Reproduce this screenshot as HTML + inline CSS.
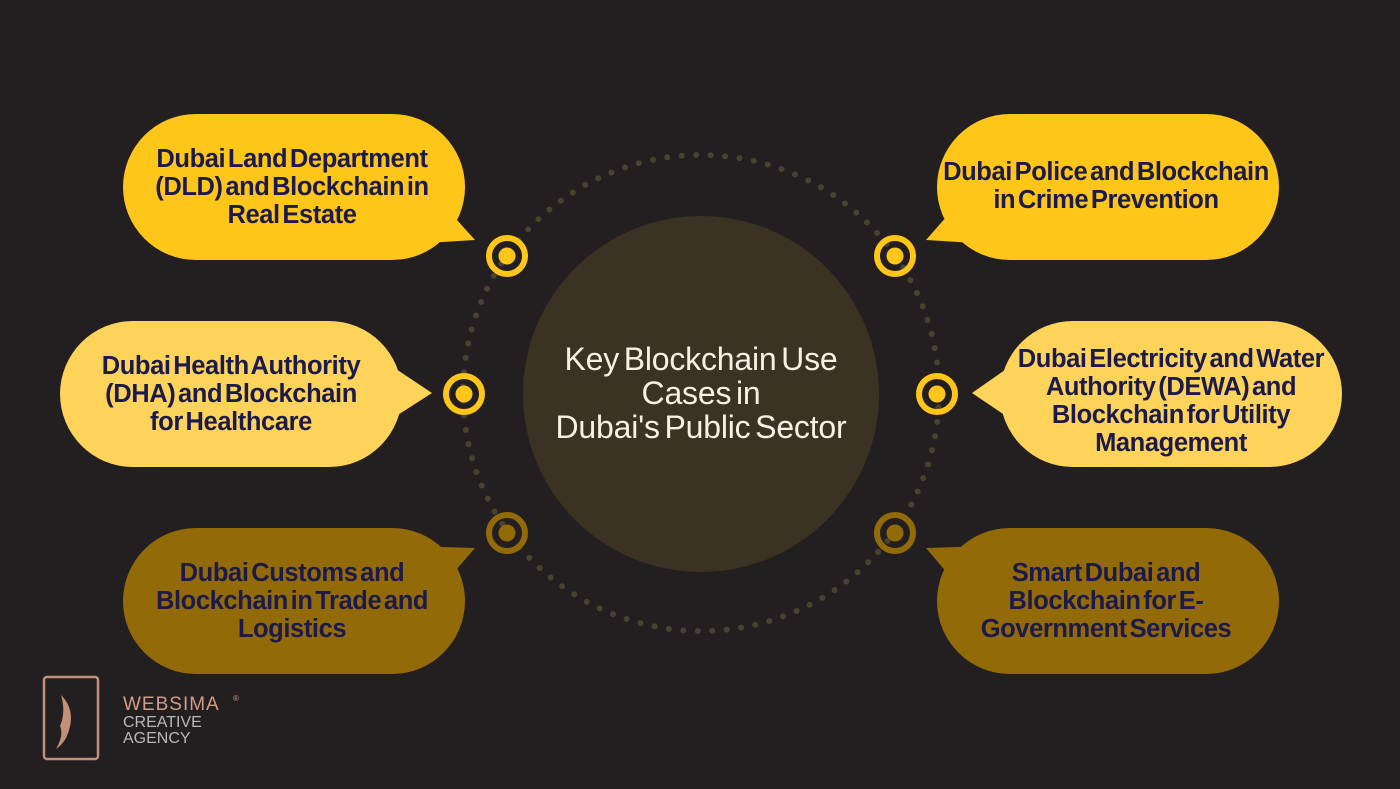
<!DOCTYPE html>
<html><head><meta charset="utf-8"><style>
html,body{margin:0;padding:0;background:#231f20;}
svg{display:block}
.t{font-family:"Liberation Sans",sans-serif;font-weight:bold;font-size:25.5px;fill:#1c1a4a;text-anchor:middle;letter-spacing:-0.4px;word-spacing:-4px}
.c{font-family:"Liberation Sans",sans-serif;font-size:32px;fill:#f8f0e4;text-anchor:middle;letter-spacing:-0.2px;word-spacing:-4px}
</style></head><body>
<svg width="1400" height="789" viewBox="0 0 1400 789">
<rect width="1400" height="789" fill="#231f20"/>
<circle cx="701" cy="393" r="238" fill="none" stroke="#4a4230" stroke-width="6" stroke-linecap="round" stroke-dasharray="0 14.5"/>
<circle cx="701" cy="394" r="178" fill="#3a3223"/>
<text class="c" x="701" y="370">Key Blockchain Use</text>
<text class="c" x="701" y="404">Cases in</text>
<text class="c" x="701" y="438">Dubai's Public Sector</text>

<rect x="123" y="114" width="342" height="146" rx="73" fill="#fec619"/>
<polygon points="430,190 475,240 410,244" fill="#fec619"/>
<text class="t" x="292" y="167">Dubai Land Department</text>
<text class="t" x="292" y="195">(DLD) and Blockchain in</text>
<text class="t" x="292" y="223">Real Estate</text>

<rect x="937" y="114" width="342" height="146" rx="73" fill="#fec619"/>
<polygon points="970,190 926,240 990,244" fill="#fec619"/>
<text class="t" x="1106" y="180">Dubai Police and Blockchain</text>
<text class="t" x="1106" y="208">in Crime Prevention</text>

<rect x="60" y="321" width="342" height="146" rx="73" fill="#fdd35a"/>
<polygon points="390,365 432,393 390,420" fill="#fdd35a"/>
<text class="t" x="231" y="374">Dubai Health Authority</text>
<text class="t" x="231" y="402">(DHA) and Blockchain</text>
<text class="t" x="231" y="430">for Healthcare</text>

<rect x="1000" y="321" width="342" height="146" rx="73" fill="#fdd35a"/>
<polygon points="1012,365 972,393 1012,420" fill="#fdd35a"/>
<text class="t" x="1171" y="367">Dubai Electricity and Water</text>
<text class="t" x="1171" y="395">Authority (DEWA) and</text>
<text class="t" x="1171" y="423">Blockchain for Utility</text>
<text class="t" x="1171" y="451">Management</text>

<rect x="123" y="528" width="342" height="146" rx="73" fill="#936a08"/>
<polygon points="410,546 475,548 430,600" fill="#936a08"/>
<text class="t" x="292" y="581">Dubai Customs and</text>
<text class="t" x="292" y="609">Blockchain in Trade and</text>
<text class="t" x="292" y="637">Logistics</text>

<rect x="937" y="528" width="342" height="146" rx="73" fill="#936a08"/>
<polygon points="990,546 926,548 970,600" fill="#936a08"/>
<text class="t" x="1106" y="581">Smart Dubai and</text>
<text class="t" x="1106" y="609">Blockchain for E-</text>
<text class="t" x="1106" y="637">Government Services</text>

<g fill="none" stroke-width="6">
<circle cx="507" cy="256" r="18" stroke="#fec619"/>
<circle cx="895" cy="256" r="18" stroke="#fec619"/>
<circle cx="464" cy="394" r="18" stroke="#fec619"/>
<circle cx="937" cy="394" r="18" stroke="#fec619"/>
<circle cx="507" cy="533" r="18" stroke="#936a08"/>
<circle cx="895" cy="533" r="18" stroke="#936a08"/>
</g>
<circle cx="507" cy="256" r="8.5" fill="#fec619"/>
<circle cx="895" cy="256" r="8.5" fill="#fec619"/>
<circle cx="464" cy="394" r="8.5" fill="#fec619"/>
<circle cx="937" cy="394" r="8.5" fill="#fec619"/>
<circle cx="507" cy="533" r="8.5" fill="#936a08"/>
<circle cx="895" cy="533" r="8.5" fill="#936a08"/>

<rect x="44" y="677" width="54" height="82" rx="3" fill="none" stroke="#c48f78" stroke-width="2.5"/>
<path d="M61 695 Q78 712 66 738 Q62 745 56 749 Q64 735 60 726 Q66 712 61 695Z" fill="#c48f78"/>
<text x="123" y="710" font-family="Liberation Sans,sans-serif" font-size="19" fill="#d19c84" letter-spacing="1">WEBSIMA</text>
<text x="233" y="701" font-family="Liberation Sans,sans-serif" font-size="8" fill="#d19c84">®</text>
<text x="123" y="727" font-family="Liberation Sans,sans-serif" font-size="16" fill="#b8b8b8">CREATIVE</text>
<text x="123" y="743" font-family="Liberation Sans,sans-serif" font-size="16" fill="#b8b8b8">AGENCY</text>
</svg>
</body></html>
